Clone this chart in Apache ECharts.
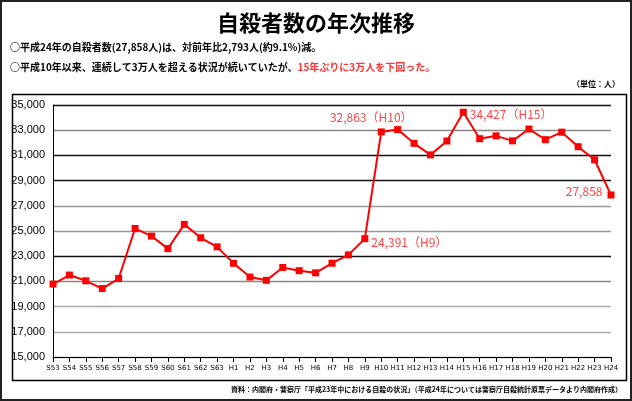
<!DOCTYPE html><html><head><meta charset="utf-8"><script src="https://cdn.jsdelivr.net/npm/echarts@6/dist/echarts.min.js"></script>
<style>body{margin:0}#c{width:632px;height:401px;box-sizing:border-box;border:2px solid #222}</style></head><body><div id="c"></div><script>
const categories=['S53','S54','S55','S56','S57','S58','S59','S60','S61','S62','S63','H1','H2','H3','H4','H5','H6','H7','H8','H9','H10','H11','H12','H13','H14','H15','H16','H17','H18','H19','H20','H21','H22','H23','H24'];
const values=[20788,21503,21048,20434,21228,25202,24596,23599,25524,24460,23742,22436,21346,21084,22104,21851,21679,22445,23104,24391,32863,33048,31957,31042,32143,34427,32325,32552,32155,33093,32249,32845,31690,30651,27858];
const labels={'H9':'24,391（H9）','H10':'32,863（H10）','H15':'34,427（H15）','H24':'27,858'};
const gridColors=['#999','#aaa','#aaa','#888','#111','#999','#999','#111','#111','#888','#111'];
const f='"Noto Sans CJK JP"';
const data=values.map((v,i)=>{const n=categories[i];if(!labels[n])return v;
 const pos={H9:'right',H10:'top',H15:'right',H24:'left'}[n];
 return {value:v,label:{show:true,position:pos,formatter:labels[n],color:'#f44',fontSize:12,fontFamily:f,offset:n==='H10'?[-10,0]:n==='H15'?[-2,2]:n==='H9'?[-2,4]:[0,-4]}};});
const ch=echarts.init(document.getElementById('c'));
ch.setOption({animation:false,
graphic:[
{type:'text',left:'center',top:10,style:{text:'自殺者数の年次推移',font:'bold 22px '+f,fill:'#000'}},
{type:'text',left:8,top:40,style:{text:'○平成24年の自殺者数(27,858人)は、対前年比2,793人(約9.1%)減。',font:'bold 10px '+f,fill:'#000'}},
{type:'text',left:8,top:60,style:{rich:{a:{font:'bold 10px '+f,fill:'#000'},b:{font:'bold 10px '+f,fill:'#f33'}},text:'{a|○平成10年以来、連続して3万人を超える状況が続いていたが、}{b|15年ぶりに3万人を下回った。}'}},
{type:'text',right:10,top:78,style:{text:'（単位：人）',font:'bold 8px '+f,fill:'#000'}},
{type:'rect',left:8,top:90,shape:{width:614,height:286},style:{fill:'none',stroke:'#000',lineWidth:1.5}},
{type:'text',right:8,top:384,style:{text:'資料：内閣府・警察庁「平成23年中における自殺の状況」（平成24年については警察庁自殺統計原票データより内閣府作成）',font:'bold 7px '+f,fill:'#000'}}
],
grid:{left:51,right:19,top:103,bottom:42},
xAxis:{type:'category',data:categories,boundaryGap:false,axisLine:{lineStyle:{color:'#000'}},axisTick:{lineStyle:{color:'#000'}},
 axisLabel:{color:'#000',fontSize:7,fontFamily:'"DejaVu Sans"',interval:0}},
yAxis:{type:'value',min:15000,max:35000,interval:2000,axisLine:{show:true,lineStyle:{color:'#000'}},
 axisLabel:{color:'#000',fontSize:11,fontFamily:'"Liberation Sans"',formatter:v=>v.toLocaleString('en-US')},
 splitLine:{lineStyle:{color:gridColors,width:1.3}}},
series:[{type:'line',data:data,symbol:'rect',symbolSize:7,itemStyle:{color:'#f00'},lineStyle:{color:'#f00',width:2}}]
});
</script></body></html>
